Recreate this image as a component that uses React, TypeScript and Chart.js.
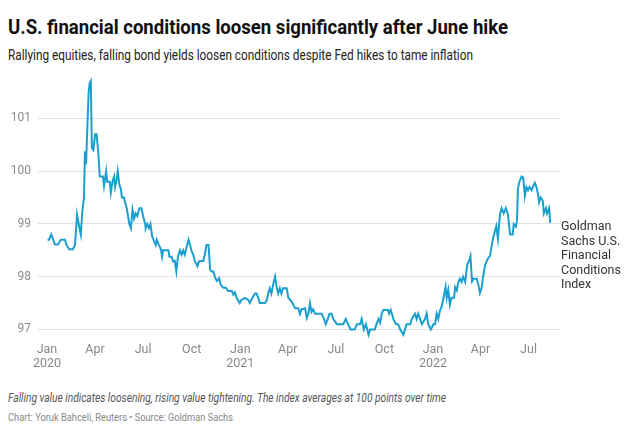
import React, { useEffect, useLayoutEffect, useRef } from "react";
import { Chart, registerables } from "chart.js";

Chart.register(...registerables);

// Days since 1 Jan 2020
const days: number[] = [
  1, 4, 8, 12, 15, 21, 26, 34, 37, 42,
  49, 53, 57, 61, 64, 67, 70, 72, 74, 76,
  79, 81, 83, 85, 88, 91, 94, 97, 100, 106,
  108, 112, 114, 119, 121, 124, 127, 129, 132, 134,
  137, 140, 142, 146, 148, 151, 153, 156, 159, 162,
  165, 168, 171, 175, 179, 182, 186, 187, 190, 193,
  196, 199, 203, 206, 208, 212, 216, 218, 220, 230,
  232, 236, 239, 242, 245, 248, 252, 255, 258, 261,
  265, 268, 271, 274, 277, 280, 285, 288, 293, 296,
  299, 302, 306, 309, 312, 315, 319, 322, 326, 329,
  334, 339, 343, 350, 353, 356, 359, 365, 368, 375,
  381, 384, 389, 394, 397, 400, 403, 413, 416, 419,
  422, 425, 429, 432, 435, 438, 441, 444, 447, 454,
  457, 461, 465, 470, 476, 479, 482, 489, 492, 495,
  498, 501, 504, 508, 520, 525, 528, 532, 535, 539,
  542, 549, 561, 566, 570, 575, 583, 587, 593, 596,
  600, 604, 609, 612, 621, 624, 628, 631, 634, 637,
  646, 648, 651, 656, 661, 665, 669, 675, 678, 681,
  688, 691, 697, 700, 703, 710, 716, 719, 722, 727,
  732, 735, 738, 741, 744, 748, 751, 755, 757, 760,
  763, 766, 771, 773, 776, 779, 782, 785, 788, 792,
  796, 800, 802, 805, 808, 814, 817, 820, 823, 826,
  830, 833, 836, 839, 842, 845, 848, 851, 854, 858,
  861, 865, 869, 873, 877, 882, 884, 888, 890, 892,
  895, 899, 902, 905, 908, 911, 914, 918, 921, 924,
  927, 930, 932, 935, 939, 941, 945, 947, 951, 953,
];

const fciValues: number[] = [
  98.70, 98.70, 98.80, 98.70, 98.61, 98.61, 98.70, 98.70, 98.60, 98.52,
  98.52, 98.60, 99.18, 98.95, 98.80, 99.24, 99.49, 100.38, 100.13, 100.70,
  101.52, 101.67, 101.71, 100.44, 100.40, 100.70, 100.70, 100.38, 99.90, 99.90,
  99.72, 100.00, 99.80, 99.80, 99.60, 99.80, 99.90, 99.70, 99.85, 100.00,
  99.75, 99.66, 99.50, 99.50, 99.40, 99.30, 99.18, 99.00, 98.92, 99.27,
  99.10, 99.20, 99.15, 99.30, 99.30, 99.15, 99.00, 98.92, 99.00, 98.92,
  99.00, 98.77, 98.67, 98.60, 98.70, 98.60, 98.51, 98.38, 98.50, 98.50,
  98.38, 98.38, 98.29, 98.30, 98.10, 98.38, 98.50, 98.42, 98.50, 98.42,
  98.58, 98.70, 98.60, 98.48, 98.42, 98.30, 98.20, 98.29, 98.30, 98.30,
  98.42, 98.60, 98.60, 98.13, 98.10, 98.10, 97.97, 97.92, 97.97, 97.85,
  97.79, 97.79, 97.73, 97.73, 97.66, 97.70, 97.60, 97.50, 97.56, 97.60,
  97.56, 97.50, 97.60, 97.68, 97.68, 97.60, 97.50, 97.50, 97.55, 97.68,
  97.78, 97.68, 97.88, 98.00, 97.80, 97.68, 97.78, 97.68, 97.78, 97.78,
  97.60, 97.56, 97.50, 97.40, 97.40, 97.29, 97.38, 97.40, 97.22, 97.30,
  97.50, 97.33, 97.38, 97.30, 97.30, 97.19, 97.10, 97.20, 97.30, 97.30,
  97.20, 97.10, 97.10, 97.20, 97.10, 97.00, 97.00, 97.10, 97.10, 97.20,
  97.00, 97.10, 96.90, 97.00, 97.00, 97.10, 97.20, 97.13, 97.30, 97.37,
  97.37, 97.30, 97.37, 97.20, 97.10, 97.10, 97.00, 96.90, 97.00, 97.10,
  97.10, 97.20, 97.30, 97.20, 97.30, 97.10, 97.20, 97.30, 97.10, 97.00,
  97.10, 97.10, 97.30, 97.20, 97.35, 97.45, 97.60, 97.81, 97.60, 97.75,
  97.47, 97.60, 97.60, 97.80, 97.74, 97.90, 97.96, 97.90, 98.00, 97.90,
  98.23, 98.32, 98.39, 97.91, 97.96, 97.96, 97.85, 97.69, 97.78, 98.00,
  98.23, 98.30, 98.36, 98.39, 98.58, 98.74, 98.85, 98.96, 98.72, 99.18,
  99.30, 99.20, 99.30, 99.18, 98.80, 98.80, 99.00, 98.95, 99.05, 99.68,
  99.81, 99.90, 99.88, 99.53, 99.70, 99.64, 99.70, 99.64, 99.72, 99.78,
  99.70, 99.57, 99.41, 99.50, 99.44, 99.20, 99.30, 99.20, 99.30, 99.02,
];

const xTickDays: number[] = [0, 91, 182, 274, 366, 456, 547, 639, 731, 821, 912];
const xTickLabels: string[][] = [
  ["Jan", "2020"], ["Apr"], ["Jul"], ["Oct"],
  ["Jan", "2021"], ["Apr"], ["Jul"], ["Oct"],
  ["Jan", "2022"], ["Apr"], ["Jul"],
];
const yTicks: number[] = [97, 98, 99, 100, 101];
const seriesLabel: string[] = ["Goldman", "Sachs U.S.", "Financial", "Conditions", "Index"];

const TITLE = "U.S. financial conditions loosen significantly after June hike";
const SUBTITLE = "Rallying equities, falling bond yields loosen conditions despite Fed hikes to tame inflation";
const NOTE = "Falling value indicates loosening, rising value tightening. The index averages at 100 points over time";
const CREDIT = "Chart: Yoruk Bahceli, Reuters \u2022 Source: Goldman Sachs";

const LINE_COLOR = "#1a9fcf";
const FONT = "Roboto, 'Noto Sans', sans-serif";

const endLabelPlugin = {
  id: "endLabel",
  afterDatasetsDraw(chart: any) {
    const { ctx, chartArea, scales } = chart;
    const last = fciValues[fciValues.length - 1];
    const y0 = scales.y.getPixelForValue(last) + 4;
    ctx.save();
    ctx.font = `12.5px ${FONT}`;
    ctx.fillStyle = "#333333";
    ctx.textAlign = "left";
    ctx.textBaseline = "middle";
    seriesLabel.forEach((t, i) => {
      ctx.fillText(t, chartArea.right + 1, y0 + i * 14.5);
    });
    ctx.restore();
  },
};

function FciChart() {
  const ref = useRef<HTMLCanvasElement | null>(null);
  useEffect(() => {
    if (!ref.current) return;
    const points = days.map((d, i) => ({ x: d, y: fciValues[i] }));
    const chart = new Chart(ref.current, {
      type: "line",
      data: {
        datasets: [
          {
            data: points,
            borderColor: LINE_COLOR,
            borderWidth: 2,
            pointRadius: 0,
            tension: 0,
            fill: false,
          },
        ],
      },
      options: {
        animation: false,
        responsive: false,
        layout: { padding: { top: 6.3, right: 80, left: 0, bottom: 0 } },
        plugins: { legend: { display: false }, tooltip: { enabled: false } },
        scales: {
          x: {
            type: "linear",
            min: -17,
            max: 971.6,
            grid: { display: false, drawTicks: false },
            border: { display: false },
            afterFit: (s: any) => {
              s.height = 35;
              s.paddingLeft = 0;
              s.paddingRight = 0;
            },
            afterBuildTicks: (s: any) => { s.ticks = xTickDays.map((v) => ({ value: v })); },
            ticks: {
              autoSkip: false,
              maxRotation: 0,
              padding: 2.5,
              color: "#888888",
              font: { family: FONT, size: 12.5, lineHeight: 1.12 },
              callback: (v: any) => {
                const i = xTickDays.indexOf(Number(v));
                return i >= 0 ? xTickLabels[i] : "";
              },
            },
          },
          y: {
            min: 96.8,
            max: 101.8,
            grid: { color: "#e3e3e3", lineWidth: 1, drawTicks: false },
            border: { display: false },
            afterFit: (s: any) => {
              s.width = 38;
              s.paddingTop = 0;
              s.paddingBottom = 0;
            },
            afterBuildTicks: (s: any) => { s.ticks = yTicks.map((v) => ({ value: v })); },
            ticks: {
              padding: 7,
              color: "#8c8c8c",
              font: { family: FONT, size: 12 },
              callback: (v: any) => String(v),
            },
          },
        },
      },
      plugins: [endLabelPlugin],
    });
    return () => chart.destroy();
  }, []);
  return <canvas ref={ref} width={640} height={305} style={{ display: "block", width: 640, height: 305 }} />;
}

function FitText({ text, width, style }: { text: string; width: number; style: React.CSSProperties }) {
  const ref = useRef<HTMLSpanElement | null>(null);
  useLayoutEffect(() => {
    const fit = () => {
      const el = ref.current;
      if (!el) return;
      el.style.transform = "none";
      const w = el.getBoundingClientRect().width;
      if (w > 0) el.style.transform = `scaleX(${width / w})`;
    };
    fit();
    if ((document as any).fonts && (document as any).fonts.ready) {
      (document as any).fonts.ready.then(fit);
    }
  }, [text, width]);
  return (
    <span
      ref={ref}
      style={{ display: "inline-block", whiteSpace: "nowrap", transformOrigin: "left center", ...style }}
    >
      {text}
    </span>
  );
}

export default function App() {
  return (
    <div style={{ position: "absolute", left: 0, top: 0, width: 640, height: 434, background: "#ffffff", fontFamily: FONT, overflow: "hidden" }}>
      <div style={{ position: "absolute", left: 8, top: 15, fontSize: 21, lineHeight: "24px", fontWeight: 700, color: "#111111", whiteSpace: "nowrap" }}>
        <FitText text={TITLE} width={500} style={{}} />
      </div>
      <div style={{ position: "absolute", left: 8, top: 47, fontSize: 14.5, lineHeight: "18px", color: "#222222", whiteSpace: "nowrap" }}>
        <FitText text={SUBTITLE} width={465} style={{}} />
      </div>
      <div style={{ position: "absolute", left: 0, top: 70, width: 640, height: 305 }}>
        <FciChart />
      </div>
      <div style={{ position: "absolute", left: 8, top: 390, fontSize: 12.5, lineHeight: "16px", fontStyle: "italic", color: "#555555", whiteSpace: "nowrap" }}>
        <FitText text={NOTE} width={438} style={{}} />
      </div>
      <div style={{ position: "absolute", left: 8, top: 410.5, fontSize: 11, lineHeight: "14px", color: "#888888", whiteSpace: "nowrap" }}>
        <FitText text={CREDIT} width={225} style={{}} />
      </div>
    </div>
  );
}
